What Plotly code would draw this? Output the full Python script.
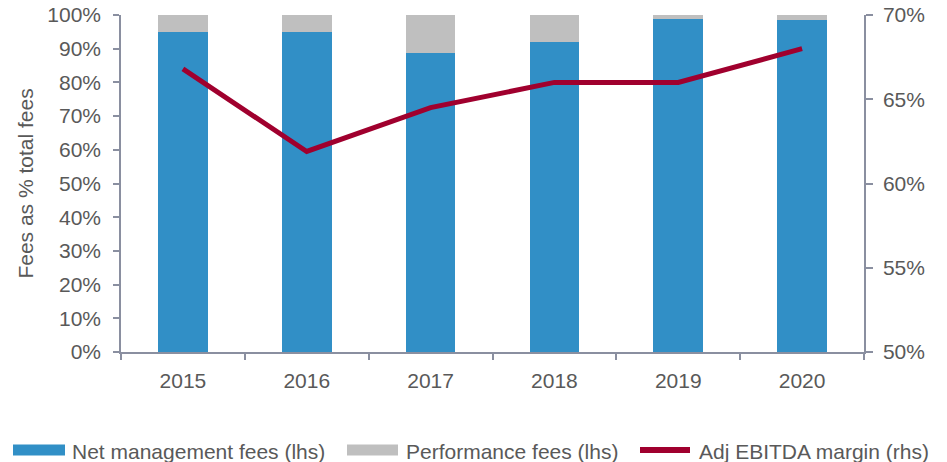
import plotly.graph_objects as go

years = ["2015", "2016", "2017", "2018", "2019", "2020"]
net_mgmt = [94.9, 94.9, 88.6, 91.9, 98.8, 98.5]
perf_fees = [5.1, 5.1, 11.4, 8.1, 1.2, 1.5]
ebitda_margin = [66.8, 61.9, 64.5, 66.0, 66.0, 68.0]

legend_labels = ["Net management fees (lhs)", "Performance fees (lhs)", "Adj EBITDA margin (rhs)"]

BLUE = "#318FC6"
GRAY = "#BFBFBF"
RED = "#A0002E"
TXT = "#595959"
AX = "#8A8FA0"
FONT = "Liberation Sans, Arial, sans-serif"
FS = 21

W, H = 947, 462
L, R, T, B = 121, 83, 15, 110
PW, PH = W - L - R, H - T - B


def px(x):
    return (x - L) / PW


def py(y):
    return (H - B - y) / PH


fig = go.Figure()
fig.add_trace(go.Bar(x=years, y=net_mgmt, marker=dict(color=BLUE, line=dict(width=0)),
                     name=legend_labels[0], showlegend=False))
fig.add_trace(go.Bar(x=years, y=perf_fees, marker=dict(color=GRAY, line=dict(width=0)),
                     name=legend_labels[1], showlegend=False))
fig.add_trace(go.Scatter(x=years, y=ebitda_margin, yaxis="y2", mode="lines",
                         line=dict(color=RED, width=5), name=legend_labels[2], showlegend=False))

fig.update_layout(
    width=W, height=H,
    margin=dict(l=L, r=R, t=T, b=B, autoexpand=False),
    paper_bgcolor="white", plot_bgcolor="white",
    barmode="stack", bargap=0.6,
    font=dict(family=FONT, size=FS, color=TXT),
    xaxis=dict(type="category", showline=True, linecolor=AX, linewidth=1.5, automargin=False,
               ticks="outside", tickson="boundaries", ticklen=6, tickcolor=AX, tickwidth=1.5,
               showgrid=False, ticklabelstandoff=9, tickfont=dict(size=FS, color=TXT)),
    yaxis=dict(range=[0, 100], dtick=10, ticksuffix="%", showline=True, linecolor=AX, linewidth=1.5,
               ticks="outside", ticklen=6, tickcolor=AX, tickwidth=1.5, showgrid=False, zeroline=False,
               ticklabelstandoff=8, automargin=False,
               title=dict(text="Fees as % total fees", font=dict(size=FS, color=TXT), standoff=8)),
    yaxis2=dict(range=[50, 70], dtick=5, ticksuffix="%", overlaying="y", side="right",
                showline=True, linecolor=AX, linewidth=1.5, ticks="outside", ticklen=7, tickcolor=AX,
                tickwidth=1.5, showgrid=False, zeroline=False, ticklabelstandoff=6, automargin=False),
)

# custom legend
ly = 450
items = [(13, 65, 70, "bar", BLUE), (347, 398, 404, "bar", GRAY), (637, 693, 697, "line", RED)]
for (x0, x1, tx, kind, col), lab in zip(items, legend_labels):
    if kind == "bar":
        fig.add_shape(type="rect", xref="paper", yref="paper", x0=px(x0), x1=px(x1),
                      y0=py(ly + 5.5), y1=py(ly - 5.5), fillcolor=col, line=dict(width=0))
    else:
        fig.add_shape(type="line", xref="paper", yref="paper", x0=px(x0 + 3), x1=px(x1 - 3),
                      y0=py(ly), y1=py(ly), line=dict(color=col, width=6))
    fig.add_annotation(text=lab, xref="paper", yref="paper", x=px(tx), y=py(ly + 1),
                       xanchor="left", yanchor="middle", showarrow=False,
                       font=dict(family=FONT, size=FS, color=TXT))

fig.write_html("out.html", config={"displayModeBar": False},
               post_script="document.body.style.margin='0';document.body.style.padding='0';")
